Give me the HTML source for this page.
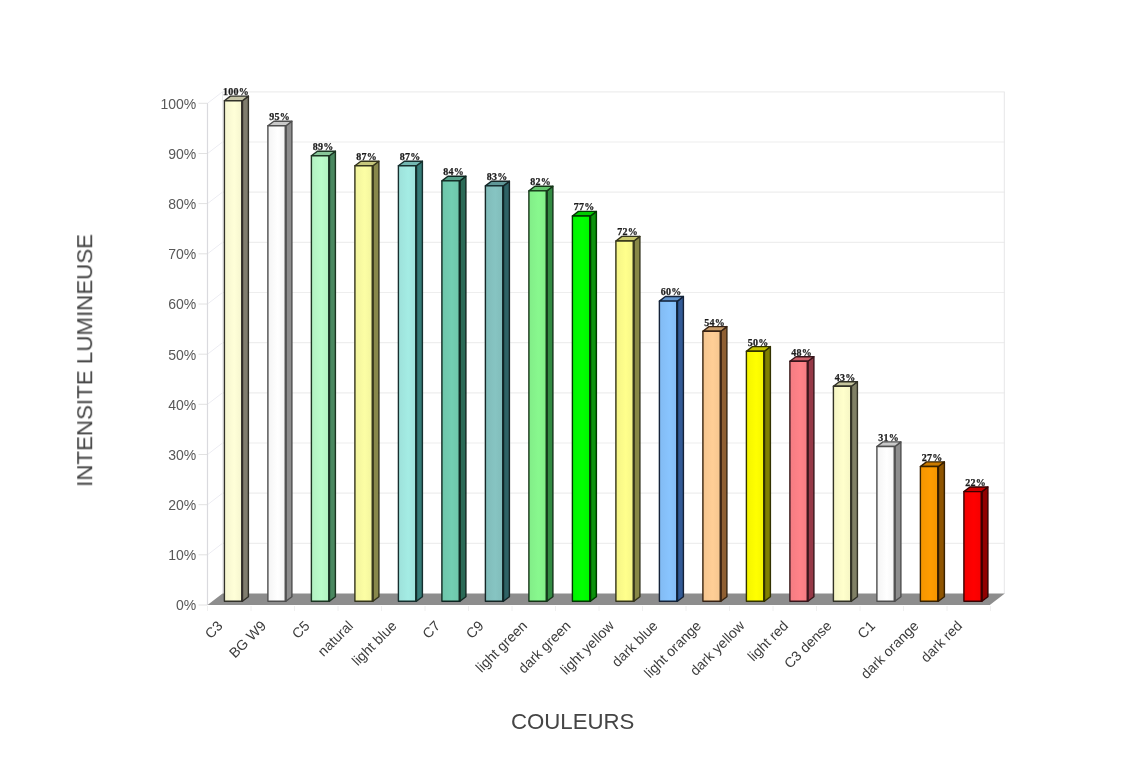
<!DOCTYPE html>
<html lang="fr"><head><meta charset="utf-8"><title>Intensité lumineuse</title>
<style>html,body{margin:0;padding:0;background:#fff}body{width:1140px;height:759px;overflow:hidden}svg{display:block}.yl{font-family:"Liberation Sans",sans-serif;font-size:14px;fill:#585858}.xl{font-family:"Liberation Sans",sans-serif;font-size:14.1px;fill:#3c3c3c}.vl{font-family:"Liberation Serif",serif;font-weight:bold;font-size:10px;letter-spacing:0.25px;fill:#1e1e1e;stroke:#1e1e1e;stroke-width:0.25px}.tt{font-family:"Liberation Sans",sans-serif;font-size:21.2px;fill:#454545}</style></head><body>
<svg width="1140" height="759" viewBox="0 0 1140 759">
<defs>
<linearGradient id="g0" x1="0" x2="1" y1="0" y2="0"><stop offset="0" stop-color="#f4f4ce"/><stop offset="0.55" stop-color="#ffffd8"/><stop offset="1" stop-color="#f4f4ce"/></linearGradient>
<linearGradient id="g1" x1="0" x2="1" y1="0" y2="0"><stop offset="0" stop-color="#f4f4f4"/><stop offset="0.55" stop-color="#ffffff"/><stop offset="1" stop-color="#f4f4f4"/></linearGradient>
<linearGradient id="g2" x1="0" x2="1" y1="0" y2="0"><stop offset="0" stop-color="#b2f1c1"/><stop offset="0.55" stop-color="#bafcca"/><stop offset="1" stop-color="#b2f1c1"/></linearGradient>
<linearGradient id="g3" x1="0" x2="1" y1="0" y2="0"><stop offset="0" stop-color="#f1f39d"/><stop offset="0.55" stop-color="#fcfea4"/><stop offset="1" stop-color="#f1f39d"/></linearGradient>
<linearGradient id="g4" x1="0" x2="1" y1="0" y2="0"><stop offset="0" stop-color="#9de1da"/><stop offset="0.55" stop-color="#a4ece4"/><stop offset="1" stop-color="#9de1da"/></linearGradient>
<linearGradient id="g5" x1="0" x2="1" y1="0" y2="0"><stop offset="0" stop-color="#6dc5aa"/><stop offset="0.55" stop-color="#72ceb2"/><stop offset="1" stop-color="#6dc5aa"/></linearGradient>
<linearGradient id="g6" x1="0" x2="1" y1="0" y2="0"><stop offset="0" stop-color="#80bbb9"/><stop offset="0.55" stop-color="#86c4c2"/><stop offset="1" stop-color="#80bbb9"/></linearGradient>
<linearGradient id="g7" x1="0" x2="1" y1="0" y2="0"><stop offset="0" stop-color="#82ed88"/><stop offset="0.55" stop-color="#88f88e"/><stop offset="1" stop-color="#82ed88"/></linearGradient>
<linearGradient id="g8" x1="0" x2="1" y1="0" y2="0"><stop offset="0" stop-color="#00f400"/><stop offset="0.55" stop-color="#00ff00"/><stop offset="1" stop-color="#00f400"/></linearGradient>
<linearGradient id="g9" x1="0" x2="1" y1="0" y2="0"><stop offset="0" stop-color="#f4f486"/><stop offset="0.55" stop-color="#ffff8c"/><stop offset="1" stop-color="#f4f486"/></linearGradient>
<linearGradient id="g10" x1="0" x2="1" y1="0" y2="0"><stop offset="0" stop-color="#82bbf3"/><stop offset="0.55" stop-color="#88c4fe"/><stop offset="1" stop-color="#82bbf3"/></linearGradient>
<linearGradient id="g11" x1="0" x2="1" y1="0" y2="0"><stop offset="0" stop-color="#f4c58f"/><stop offset="0.55" stop-color="#ffce96"/><stop offset="1" stop-color="#f4c58f"/></linearGradient>
<linearGradient id="g12" x1="0" x2="1" y1="0" y2="0"><stop offset="0" stop-color="#f4f400"/><stop offset="0.55" stop-color="#ffff00"/><stop offset="1" stop-color="#f4f400"/></linearGradient>
<linearGradient id="g13" x1="0" x2="1" y1="0" y2="0"><stop offset="0" stop-color="#f47c82"/><stop offset="0.55" stop-color="#ff8288"/><stop offset="1" stop-color="#f47c82"/></linearGradient>
<linearGradient id="g14" x1="0" x2="1" y1="0" y2="0"><stop offset="0" stop-color="#f4f4c3"/><stop offset="0.55" stop-color="#ffffcc"/><stop offset="1" stop-color="#f4f4c3"/></linearGradient>
<linearGradient id="g15" x1="0" x2="1" y1="0" y2="0"><stop offset="0" stop-color="#f4f4f4"/><stop offset="0.55" stop-color="#ffffff"/><stop offset="1" stop-color="#f4f4f4"/></linearGradient>
<linearGradient id="g16" x1="0" x2="1" y1="0" y2="0"><stop offset="0" stop-color="#f49504"/><stop offset="0.55" stop-color="#ff9c04"/><stop offset="1" stop-color="#f49504"/></linearGradient>
<linearGradient id="g17" x1="0" x2="1" y1="0" y2="0"><stop offset="0" stop-color="#f40404"/><stop offset="0.55" stop-color="#ff0404"/><stop offset="1" stop-color="#f40404"/></linearGradient>
<filter id="bl" x="-2%" y="-2%" width="104%" height="104%"><feGaussianBlur stdDeviation="0.55"/></filter></defs>
<rect width="1140" height="759" fill="#fff"/><g filter="url(#bl)">
<g><path d="M198.5 103.3H207.5" fill="none" stroke="#e2e2e2" stroke-width="1"/><path d="M207.5 103.3L222.5 91.8" fill="none" stroke="#ececf2" stroke-width="1"/><path d="M222.5 91.8H1004.5999999999999" fill="none" stroke="#eeeeee" stroke-width="1.2"/><path d="M198.5 153.5H207.5" fill="none" stroke="#e2e2e2" stroke-width="1"/><path d="M207.5 153.5L222.5 142.0" fill="none" stroke="#ececf2" stroke-width="1"/><path d="M222.5 142.0H1004.5999999999999" fill="none" stroke="#eeeeee" stroke-width="1.2"/><path d="M198.5 203.6H207.5" fill="none" stroke="#e2e2e2" stroke-width="1"/><path d="M207.5 203.6L222.5 192.1" fill="none" stroke="#ececf2" stroke-width="1"/><path d="M222.5 192.1H1004.5999999999999" fill="none" stroke="#eeeeee" stroke-width="1.2"/><path d="M198.5 253.8H207.5" fill="none" stroke="#e2e2e2" stroke-width="1"/><path d="M207.5 253.8L222.5 242.3" fill="none" stroke="#ececf2" stroke-width="1"/><path d="M222.5 242.3H1004.5999999999999" fill="none" stroke="#eeeeee" stroke-width="1.2"/><path d="M198.5 304.0H207.5" fill="none" stroke="#e2e2e2" stroke-width="1"/><path d="M207.5 304.0L222.5 292.5" fill="none" stroke="#ececf2" stroke-width="1"/><path d="M222.5 292.5H1004.5999999999999" fill="none" stroke="#eeeeee" stroke-width="1.2"/><path d="M198.5 354.2H207.5" fill="none" stroke="#e2e2e2" stroke-width="1"/><path d="M207.5 354.2L222.5 342.7" fill="none" stroke="#ececf2" stroke-width="1"/><path d="M222.5 342.7H1004.5999999999999" fill="none" stroke="#eeeeee" stroke-width="1.2"/><path d="M198.5 404.3H207.5" fill="none" stroke="#e2e2e2" stroke-width="1"/><path d="M207.5 404.3L222.5 392.8" fill="none" stroke="#ececf2" stroke-width="1"/><path d="M222.5 392.8H1004.5999999999999" fill="none" stroke="#eeeeee" stroke-width="1.2"/><path d="M198.5 454.5H207.5" fill="none" stroke="#e2e2e2" stroke-width="1"/><path d="M207.5 454.5L222.5 443.0" fill="none" stroke="#ececf2" stroke-width="1"/><path d="M222.5 443.0H1004.5999999999999" fill="none" stroke="#eeeeee" stroke-width="1.2"/><path d="M198.5 504.7H207.5" fill="none" stroke="#e2e2e2" stroke-width="1"/><path d="M207.5 504.7L222.5 493.2" fill="none" stroke="#ececf2" stroke-width="1"/><path d="M222.5 493.2H1004.5999999999999" fill="none" stroke="#eeeeee" stroke-width="1.2"/><path d="M198.5 554.8H207.5" fill="none" stroke="#e2e2e2" stroke-width="1"/><path d="M207.5 554.8L222.5 543.3" fill="none" stroke="#ececf2" stroke-width="1"/><path d="M222.5 543.3H1004.5999999999999" fill="none" stroke="#eeeeee" stroke-width="1.2"/><path d="M198.5 605.0H207.5" fill="none" stroke="#e2e2e2" stroke-width="1"/></g>
<path d="M207.5 103.3V605.0" stroke="#dadade" stroke-width="1.2" fill="none"/>
<path d="M222.5 91.8V593.5" stroke="#ececee" stroke-width="1" fill="none"/>
<path d="M1004.3 91.8V593.5" stroke="#e6e6e8" stroke-width="1" fill="none"/>
<path d="M207.5 605.0L222.5 593.5H1004.8L989.8 605.0Z" fill="#8d8d8d"/>
<g><path d="M207.5 606.0v5" stroke="#f0f0f0" stroke-width="1"/><path d="M251.0 606.0v5" stroke="#f0f0f0" stroke-width="1"/><path d="M294.5 606.0v5" stroke="#f0f0f0" stroke-width="1"/><path d="M338.0 606.0v5" stroke="#f0f0f0" stroke-width="1"/><path d="M381.5 606.0v5" stroke="#f0f0f0" stroke-width="1"/><path d="M425.0 606.0v5" stroke="#f0f0f0" stroke-width="1"/><path d="M468.5 606.0v5" stroke="#f0f0f0" stroke-width="1"/><path d="M512.0 606.0v5" stroke="#f0f0f0" stroke-width="1"/><path d="M555.5 606.0v5" stroke="#f0f0f0" stroke-width="1"/><path d="M599.0 606.0v5" stroke="#f0f0f0" stroke-width="1"/><path d="M642.5 606.0v5" stroke="#f0f0f0" stroke-width="1"/><path d="M686.0 606.0v5" stroke="#f0f0f0" stroke-width="1"/><path d="M729.5 606.0v5" stroke="#f0f0f0" stroke-width="1"/><path d="M773.0 606.0v5" stroke="#f0f0f0" stroke-width="1"/><path d="M816.5 606.0v5" stroke="#f0f0f0" stroke-width="1"/><path d="M860.0 606.0v5" stroke="#f0f0f0" stroke-width="1"/><path d="M903.5 606.0v5" stroke="#f0f0f0" stroke-width="1"/><path d="M947.0 606.0v5" stroke="#f0f0f0" stroke-width="1"/><path d="M990.5 606.0v5" stroke="#f0f0f0" stroke-width="1"/></g>
<g stroke="#31302a" stroke-width="1.4" stroke-linejoin="round">
<path d="M242.4 100.7l6.0 -4.6V596.7L242.4 601.3Z" fill="#807d6e"/>
<path d="M224.4 100.7l6.0 -4.6h18.0L242.4 100.7Z" fill="#c5c4a7"/>
<rect x="224.4" y="100.7" width="18.0" height="500.6" fill="url(#g0)"/>
<path d="M241.7 100.7V601.3" fill="none" stroke-width="1.3"/>
</g>
<text class="vl" x="236.0" y="95.0" text-anchor="middle">100%</text>
<g stroke="#4f4f4f" stroke-width="1.4" stroke-linejoin="round">
<path d="M285.9 125.8l6.0 -4.6V596.7L285.9 601.3Z" fill="#8d8d8d"/>
<path d="M267.9 125.8l6.0 -4.6h18.0L285.9 125.8Z" fill="#cacaca"/>
<rect x="267.9" y="125.8" width="18.0" height="475.5" fill="url(#g1)"/>
<path d="M285.2 125.8V601.3" fill="none" stroke-width="1.3"/>
</g>
<text class="vl" x="279.5" y="120.1" text-anchor="middle">95%</text>
<g stroke="#1b3424" stroke-width="1.4" stroke-linejoin="round">
<path d="M329.4 155.8l6.0 -4.6V596.7L329.4 601.3Z" fill="#48885f"/>
<path d="M311.4 155.8l6.0 -4.6h18.0L329.4 155.8Z" fill="#87c699"/>
<rect x="311.4" y="155.8" width="18.0" height="445.5" fill="url(#g2)"/>
<path d="M328.7 155.8V601.3" fill="none" stroke-width="1.3"/>
</g>
<text class="vl" x="323.0" y="150.1" text-anchor="middle">89%</text>
<g stroke="#34341d" stroke-width="1.4" stroke-linejoin="round">
<path d="M372.9 165.8l6.0 -4.6V596.7L372.9 601.3Z" fill="#88884b"/>
<path d="M354.9 165.8l6.0 -4.6h18.0L372.9 165.8Z" fill="#c6c77c"/>
<rect x="354.9" y="165.8" width="18.0" height="435.5" fill="url(#g3)"/>
<path d="M372.2 165.8V601.3" fill="none" stroke-width="1.3"/>
</g>
<text class="vl" x="366.5" y="160.1" text-anchor="middle">87%</text>
<g stroke="#142f2d" stroke-width="1.4" stroke-linejoin="round">
<path d="M416.4 165.8l6.0 -4.6V596.7L416.4 601.3Z" fill="#357b77"/>
<path d="M398.4 165.8l6.0 -4.6h18.0L416.4 165.8Z" fill="#73b8b2"/>
<rect x="398.4" y="165.8" width="18.0" height="435.5" fill="url(#g4)"/>
<path d="M415.7 165.8V601.3" fill="none" stroke-width="1.3"/>
</g>
<text class="vl" x="410.0" y="160.1" text-anchor="middle">87%</text>
<g stroke="#102821" stroke-width="1.4" stroke-linejoin="round">
<path d="M459.9 180.9l6.0 -4.6V596.7L459.9 601.3Z" fill="#2a6a56"/>
<path d="M441.9 180.9l6.0 -4.6h18.0L459.9 180.9Z" fill="#52a088"/>
<rect x="441.9" y="180.9" width="18.0" height="420.4" fill="url(#g5)"/>
<path d="M459.2 180.9V601.3" fill="none" stroke-width="1.3"/>
</g>
<text class="vl" x="453.5" y="175.2" text-anchor="middle">84%</text>
<g stroke="#122627" stroke-width="1.4" stroke-linejoin="round">
<path d="M503.4 185.9l6.0 -4.6V596.7L503.4 601.3Z" fill="#2e6365"/>
<path d="M485.4 185.9l6.0 -4.6h18.0L503.4 185.9Z" fill="#5f9797"/>
<rect x="485.4" y="185.9" width="18.0" height="415.4" fill="url(#g6)"/>
<path d="M502.7 185.9V601.3" fill="none" stroke-width="1.3"/>
</g>
<text class="vl" x="497.0" y="180.2" text-anchor="middle">83%</text>
<g stroke="#133519" stroke-width="1.4" stroke-linejoin="round">
<path d="M546.9 190.9l6.0 -4.6V596.7L546.9 601.3Z" fill="#338b42"/>
<path d="M528.9 190.9l6.0 -4.6h18.0L546.9 190.9Z" fill="#62c56c"/>
<rect x="528.9" y="190.9" width="18.0" height="410.4" fill="url(#g7)"/>
<path d="M546.2 190.9V601.3" fill="none" stroke-width="1.3"/>
</g>
<text class="vl" x="540.5" y="185.2" text-anchor="middle">82%</text>
<g stroke="#033703" stroke-width="1.4" stroke-linejoin="round">
<path d="M590.4 216.0l6.0 -4.6V596.7L590.4 601.3Z" fill="#079107"/>
<path d="M572.4 216.0l6.0 -4.6h18.0L590.4 216.0Z" fill="#03cb03"/>
<rect x="572.4" y="216.0" width="18.0" height="385.3" fill="url(#g8)"/>
<path d="M589.7 216.0V601.3" fill="none" stroke-width="1.3"/>
</g>
<text class="vl" x="584.0" y="210.3" text-anchor="middle">77%</text>
<g stroke="#34341b" stroke-width="1.4" stroke-linejoin="round">
<path d="M633.9 241.0l6.0 -4.6V596.7L633.9 601.3Z" fill="#888846"/>
<path d="M615.9 241.0l6.0 -4.6h18.0L633.9 241.0Z" fill="#c8c86c"/>
<rect x="615.9" y="241.0" width="18.0" height="360.3" fill="url(#g9)"/>
<path d="M633.2 241.0V601.3" fill="none" stroke-width="1.3"/>
</g>
<text class="vl" x="627.5" y="235.3" text-anchor="middle">72%</text>
<g stroke="#122239" stroke-width="1.4" stroke-linejoin="round">
<path d="M677.4 301.1l6.0 -4.6V596.7L677.4 601.3Z" fill="#305a96"/>
<path d="M659.4 301.1l6.0 -4.6h18.0L677.4 301.1Z" fill="#6194cc"/>
<rect x="659.4" y="301.1" width="18.0" height="300.2" fill="url(#g10)"/>
<path d="M676.7 301.1V601.3" fill="none" stroke-width="1.3"/>
</g>
<text class="vl" x="671.0" y="295.4" text-anchor="middle">60%</text>
<g stroke="#372412" stroke-width="1.4" stroke-linejoin="round">
<path d="M720.9 331.2l6.0 -4.6V596.7L720.9 601.3Z" fill="#8f5f30"/>
<path d="M702.9 331.2l6.0 -4.6h18.0L720.9 331.2Z" fill="#ca9c69"/>
<rect x="702.9" y="331.2" width="18.0" height="270.1" fill="url(#g11)"/>
<path d="M720.2 331.2V601.3" fill="none" stroke-width="1.3"/>
</g>
<text class="vl" x="714.5" y="325.5" text-anchor="middle">54%</text>
<g stroke="#313100" stroke-width="1.4" stroke-linejoin="round">
<path d="M764.4 351.2l6.0 -4.6V596.7L764.4 601.3Z" fill="#808000"/>
<path d="M746.4 351.2l6.0 -4.6h18.0L764.4 351.2Z" fill="#c5c500"/>
<rect x="746.4" y="351.2" width="18.0" height="250.1" fill="url(#g12)"/>
<path d="M763.7 351.2V601.3" fill="none" stroke-width="1.3"/>
</g>
<text class="vl" x="758.0" y="345.5" text-anchor="middle">50%</text>
<g stroke="#39161b" stroke-width="1.4" stroke-linejoin="round">
<path d="M807.9 361.3l6.0 -4.6V596.7L807.9 601.3Z" fill="#963946"/>
<path d="M789.9 361.3l6.0 -4.6h18.0L807.9 361.3Z" fill="#cd616a"/>
<rect x="789.9" y="361.3" width="18.0" height="240.0" fill="url(#g13)"/>
<path d="M807.2 361.3V601.3" fill="none" stroke-width="1.3"/>
</g>
<text class="vl" x="801.5" y="355.6" text-anchor="middle">48%</text>
<g stroke="#313127" stroke-width="1.4" stroke-linejoin="round">
<path d="M851.4 386.3l6.0 -4.6V596.7L851.4 601.3Z" fill="#808065"/>
<path d="M833.4 386.3l6.0 -4.6h18.0L851.4 386.3Z" fill="#c5c59d"/>
<rect x="833.4" y="386.3" width="18.0" height="215.0" fill="url(#g14)"/>
<path d="M850.7 386.3V601.3" fill="none" stroke-width="1.3"/>
</g>
<text class="vl" x="845.0" y="380.6" text-anchor="middle">43%</text>
<g stroke="#4f4f4f" stroke-width="1.4" stroke-linejoin="round">
<path d="M894.9 446.5l6.0 -4.6V596.7L894.9 601.3Z" fill="#8d8d8d"/>
<path d="M876.9 446.5l6.0 -4.6h18.0L894.9 446.5Z" fill="#cacaca"/>
<rect x="876.9" y="446.5" width="18.0" height="154.8" fill="url(#g15)"/>
<path d="M894.2 446.5V601.3" fill="none" stroke-width="1.3"/>
</g>
<text class="vl" x="888.5" y="440.8" text-anchor="middle">31%</text>
<g stroke="#372002" stroke-width="1.4" stroke-linejoin="round">
<path d="M938.4 466.5l6.0 -4.6V596.7L938.4 601.3Z" fill="#8f5404"/>
<path d="M920.4 466.5l6.0 -4.6h18.0L938.4 466.5Z" fill="#ca7a04"/>
<rect x="920.4" y="466.5" width="18.0" height="134.8" fill="url(#g16)"/>
<path d="M937.7 466.5V601.3" fill="none" stroke-width="1.3"/>
</g>
<text class="vl" x="932.0" y="460.8" text-anchor="middle">27%</text>
<g stroke="#370202" stroke-width="1.4" stroke-linejoin="round">
<path d="M981.9 491.6l6.0 -4.6V596.7L981.9 601.3Z" fill="#910404"/>
<path d="M963.9 491.6l6.0 -4.6h18.0L981.9 491.6Z" fill="#cb0404"/>
<rect x="963.9" y="491.6" width="18.0" height="109.7" fill="url(#g17)"/>
<path d="M981.2 491.6V601.3" fill="none" stroke-width="1.3"/>
</g>
<text class="vl" x="975.5" y="485.9" text-anchor="middle">22%</text>
<text class="yl" x="196.3" y="610.4" text-anchor="end">0%</text>
<text class="yl" x="196.3" y="560.2" text-anchor="end">10%</text>
<text class="yl" x="196.3" y="510.1" text-anchor="end">20%</text>
<text class="yl" x="196.3" y="459.9" text-anchor="end">30%</text>
<text class="yl" x="196.3" y="409.7" text-anchor="end">40%</text>
<text class="yl" x="196.3" y="359.5" text-anchor="end">50%</text>
<text class="yl" x="196.3" y="309.4" text-anchor="end">60%</text>
<text class="yl" x="196.3" y="259.2" text-anchor="end">70%</text>
<text class="yl" x="196.3" y="209.0" text-anchor="end">80%</text>
<text class="yl" x="196.3" y="158.9" text-anchor="end">90%</text>
<text class="yl" x="196.3" y="108.7" text-anchor="end">100%</text>
<text class="xl" transform="translate(217.2 620.3) rotate(-45)" text-anchor="end" y="9">C3</text>
<text class="xl" transform="translate(260.7 620.3) rotate(-45)" text-anchor="end" y="9">BG W9</text>
<text class="xl" transform="translate(304.2 620.3) rotate(-45)" text-anchor="end" y="9">C5</text>
<text class="xl" transform="translate(347.7 620.3) rotate(-45)" text-anchor="end" y="9">natural</text>
<text class="xl" transform="translate(391.2 620.3) rotate(-45)" text-anchor="end" y="9">light blue</text>
<text class="xl" transform="translate(434.7 620.3) rotate(-45)" text-anchor="end" y="9">C7</text>
<text class="xl" transform="translate(478.2 620.3) rotate(-45)" text-anchor="end" y="9">C9</text>
<text class="xl" transform="translate(521.7 620.3) rotate(-45)" text-anchor="end" y="9">light green</text>
<text class="xl" transform="translate(565.2 620.3) rotate(-45)" text-anchor="end" y="9">dark green</text>
<text class="xl" transform="translate(608.7 620.3) rotate(-45)" text-anchor="end" y="9">light yellow</text>
<text class="xl" transform="translate(652.2 620.3) rotate(-45)" text-anchor="end" y="9">dark blue</text>
<text class="xl" transform="translate(695.7 620.3) rotate(-45)" text-anchor="end" y="9">light orange</text>
<text class="xl" transform="translate(739.2 620.3) rotate(-45)" text-anchor="end" y="9">dark yellow</text>
<text class="xl" transform="translate(782.7 620.3) rotate(-45)" text-anchor="end" y="9">light red</text>
<text class="xl" transform="translate(826.2 620.3) rotate(-45)" text-anchor="end" y="9">C3 dense</text>
<text class="xl" transform="translate(869.7 620.3) rotate(-45)" text-anchor="end" y="9">C1</text>
<text class="xl" transform="translate(913.2 620.3) rotate(-45)" text-anchor="end" y="9">dark orange</text>
<text class="xl" transform="translate(956.7 620.3) rotate(-45)" text-anchor="end" y="9">dark red</text>
<text class="tt" transform="translate(92.2 360.4) rotate(-90)" text-anchor="middle" textLength="253" lengthAdjust="spacingAndGlyphs">INTENSITE LUMINEUSE</text>
<text class="tt" x="572.7" y="728.6" text-anchor="middle" textLength="123.5" lengthAdjust="spacingAndGlyphs">COULEURS</text>
</g></svg></body></html>
